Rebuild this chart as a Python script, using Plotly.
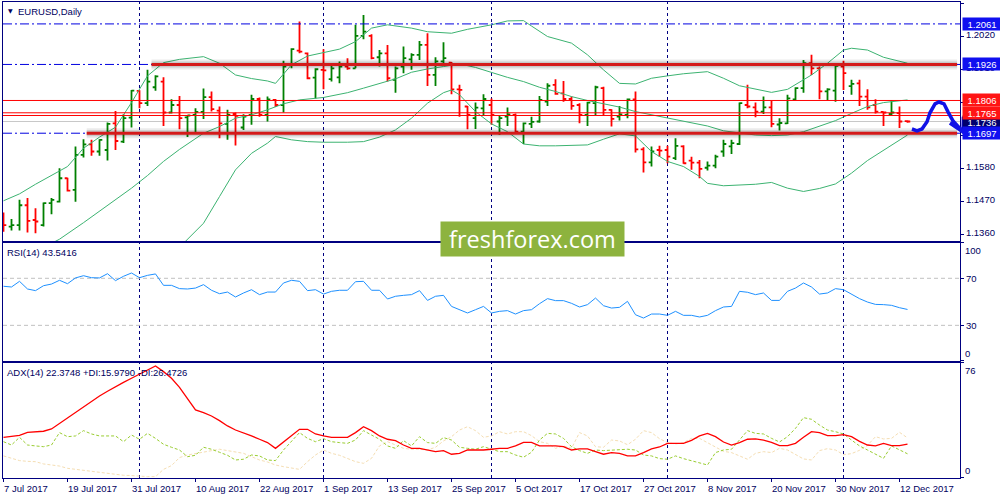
import plotly.graph_objects as go

# EURUSD daily bars, 7 Jul 2017 .. 13 Dec 2017 (one entry per trading day)
opens = [1.1419, 1.1386, 1.1391, 1.1457, 1.1408, 1.1391, 1.1464, 1.1469, 1.1547, 1.1508,
         1.1625, 1.1660, 1.1636, 1.1641, 1.1730, 1.1669, 1.1749, 1.1838, 1.1797, 1.1850,
         1.1869, 1.1766, 1.1791, 1.1750, 1.1758, 1.1768, 1.1817, 1.1772, 1.1728, 1.1761,
         1.1716, 1.1758, 1.1811, 1.1758, 1.1808, 1.1791, 1.1924, 1.1972, 1.1963, 1.1882,
         1.1908, 1.1877, 1.1883, 1.1919, 1.1913, 1.2021, 1.2021, 1.1950, 1.1963, 1.1875,
         1.1919, 1.1943, 1.1958, 1.1991, 1.1891, 1.1936, 1.1932, 1.1843, 1.1786, 1.1747,
         1.1780, 1.1791, 1.1736, 1.1752, 1.1758, 1.1702, 1.1728, 1.1736, 1.1802, 1.1858,
         1.1830, 1.1811, 1.1791, 1.1758, 1.1797, 1.1847, 1.1775, 1.1752, 1.1758, 1.1810,
         1.1643, 1.1600, 1.1641, 1.1641, 1.1614, 1.1653, 1.1606, 1.1599, 1.1582, 1.1589,
         1.1636, 1.1653, 1.1661, 1.1791, 1.1783, 1.1769, 1.1783, 1.1726, 1.1730, 1.1810,
         1.1847, 1.1930, 1.1913, 1.1836, 1.1839, 1.1919, 1.1854, 1.1863, 1.1819, 1.1791,
         1.1768, 1.1761, 1.1764, 1.1737]
highs = [1.1433, 1.1411, 1.1475, 1.1481, 1.1447, 1.1466, 1.1481, 1.1580, 1.1549, 1.1653,
         1.1677, 1.1675, 1.1677, 1.1733, 1.1771, 1.1760, 1.1841, 1.1840, 1.1908, 1.1890,
         1.1883, 1.1810, 1.1821, 1.1758, 1.1780, 1.1846, 1.1836, 1.1786, 1.1775, 1.1766,
         1.1760, 1.1825, 1.1816, 1.1819, 1.1811, 1.1938, 1.1980, 1.2069, 1.1966, 1.1913,
         1.1977, 1.1925, 1.1936, 1.1947, 1.2058, 1.2091, 1.2027, 1.1974, 1.1991, 1.1919,
         1.1986, 1.1963, 1.2004, 1.2030, 1.1950, 1.2000, 1.1934, 1.1858, 1.1788, 1.1799,
         1.1827, 1.1813, 1.1758, 1.1783, 1.1763, 1.1733, 1.1752, 1.1821, 1.1863, 1.1877,
         1.1871, 1.1819, 1.1797, 1.1802, 1.1855, 1.1852, 1.1777, 1.1788, 1.1813, 1.1836,
         1.1650, 1.1653, 1.1655, 1.1655, 1.1680, 1.1657, 1.1619, 1.1608, 1.1603, 1.1625,
         1.1675, 1.1675, 1.1799, 1.1858, 1.1799, 1.1819, 1.1806, 1.1747, 1.1825, 1.1850,
         1.1941, 1.1958, 1.1919, 1.1847, 1.1927, 1.1938, 1.1875, 1.1875, 1.1843, 1.1810,
         1.1769, 1.1808, 1.1786, 1.1740]
lows = [1.1369, 1.1373, 1.1373, 1.1366, 1.1364, 1.1386, 1.1427, 1.1466, 1.1503, 1.1469,
        1.1616, 1.1622, 1.1622, 1.1606, 1.1641, 1.1664, 1.1716, 1.1780, 1.1788, 1.1838,
        1.1721, 1.1763, 1.1710, 1.1684, 1.1699, 1.1744, 1.1769, 1.1680, 1.1675, 1.1656,
        1.1708, 1.1725, 1.1752, 1.1736, 1.1784, 1.1766, 1.1913, 1.1963, 1.1877, 1.1813,
        1.1843, 1.1869, 1.1863, 1.1908, 1.1913, 1.2010, 1.1943, 1.1919, 1.1869, 1.1832,
        1.1897, 1.1908, 1.1941, 1.1854, 1.1854, 1.1930, 1.1827, 1.1752, 1.1710, 1.1711,
        1.1755, 1.1725, 1.1691, 1.1721, 1.1697, 1.1661, 1.1714, 1.1732, 1.1788, 1.1825,
        1.1802, 1.1775, 1.1730, 1.1721, 1.1758, 1.1755, 1.1719, 1.1739, 1.1747, 1.1633,
        1.1566, 1.1586, 1.1619, 1.1597, 1.1608, 1.1595, 1.1575, 1.1547, 1.1573, 1.1580,
        1.1619, 1.1628, 1.1658, 1.1780, 1.1750, 1.1761, 1.1717, 1.1706, 1.1728, 1.1808,
        1.1832, 1.1891, 1.1810, 1.1808, 1.1802, 1.1841, 1.1825, 1.1788, 1.1775, 1.1763,
        1.1721, 1.1758, 1.1714, 1.1732]
closes = [1.1391, 1.1391, 1.1457, 1.1405, 1.1403, 1.1464, 1.1475, 1.1547, 1.1506, 1.1625,
          1.1660, 1.1636, 1.1675, 1.1728, 1.1671, 1.1747, 1.1839, 1.1797, 1.1869, 1.1886,
          1.1766, 1.1791, 1.1747, 1.1756, 1.1768, 1.1817, 1.1777, 1.1730, 1.1758, 1.1755,
          1.1752, 1.1811, 1.1758, 1.1810, 1.1791, 1.1919, 1.1977, 1.1969, 1.1880, 1.1910,
          1.1906, 1.1913, 1.1919, 1.1913, 1.2021, 1.2035, 1.1947, 1.1963, 1.1880, 1.1913,
          1.1947, 1.1958, 1.1991, 1.1891, 1.1936, 1.1947, 1.1843, 1.1841, 1.1758, 1.1782,
          1.1811, 1.1758, 1.1747, 1.1760, 1.1702, 1.1730, 1.1735, 1.1808, 1.1855, 1.1828,
          1.1811, 1.1788, 1.1758, 1.1799, 1.1850, 1.1775, 1.1745, 1.1760, 1.1810, 1.1643,
          1.1600, 1.1636, 1.1639, 1.1619, 1.1655, 1.1597, 1.1599, 1.1578, 1.1589, 1.1619,
          1.1661, 1.1664, 1.1797, 1.1786, 1.1769, 1.1783, 1.1728, 1.1731, 1.1813, 1.1847,
          1.1930, 1.1913, 1.1836, 1.1843, 1.1921, 1.1897, 1.1861, 1.1819, 1.1783, 1.1769,
          1.1766, 1.1766, 1.1736, 1.1736]
bar_idx = list(range(len(opens)))

# date labels on the time scale (bar index -> text)
date_idx = [0, 8, 16, 24, 32, 40, 48, 56, 64, 72, 80, 88, 96, 104, 112]
date_txt = ["7 Jul 2017", "19 Jul 2017", "31 Jul 2017", "10 Aug 2017", "22 Aug 2017",
            "1 Sep 2017", "13 Sep 2017", "25 Sep 2017", "5 Oct 2017", "17 Oct 2017",
            "27 Oct 2017", "8 Nov 2017", "20 Nov 2017", "30 Nov 2017", "12 Dec 2017"]
month_idx = [17, 40, 61, 83, 105]   # first bar of each month -> vertical grid

# Bollinger bands
bb_up_idx = [0, 2, 4, 6, 8, 10, 12, 14, 16, 18, 20, 22, 25, 27, 29, 31, 33, 34, 36, 38,
             40, 42, 44, 46, 48, 51, 53, 56, 58, 61, 63, 65, 66, 68, 71, 73, 75, 77, 79, 81,
             83, 85, 88, 90, 92, 94, 96, 98, 100, 101, 103, 105, 106, 108, 110, 113]
bb_up = [1.1472, 1.1495, 1.1527, 1.1556, 1.1586, 1.1647, 1.1684, 1.1717, 1.1799, 1.1888,
         1.1932, 1.1943, 1.1952, 1.1930, 1.1891, 1.1879, 1.1871, 1.1863, 1.1925, 1.1954,
         1.1965, 1.1977, 1.2002, 1.2047, 1.2058, 1.2047, 1.2035, 1.2030, 1.2043, 1.2058,
         1.2071, 1.2072, 1.2054, 1.2019, 1.1997, 1.1958, 1.1908, 1.1863, 1.1861, 1.1880,
         1.1888, 1.1895, 1.1902, 1.1880, 1.1855, 1.1843, 1.1833, 1.1843, 1.1875, 1.1891,
         1.1930, 1.1974, 1.1980, 1.1974, 1.1950, 1.1930]
bb_mid_idx = [6, 7, 10, 12, 14, 16, 18, 20, 22, 25, 27, 29, 31, 33, 35, 37, 40, 43, 45, 47,
              49, 51, 53, 55, 57, 59, 61, 63, 65, 67, 69, 71, 73, 75, 77, 79, 81, 83, 85, 88,
              90, 92, 94, 96, 98, 100, 102, 104, 106, 108, 110, 113]
bb_mid = [1.1330, 1.1344, 1.1399, 1.1437, 1.1476, 1.1514, 1.1556, 1.1603, 1.1643, 1.1697,
          1.1719, 1.1747, 1.1758, 1.1775, 1.1795, 1.1808, 1.1816, 1.1832, 1.1847, 1.1863,
          1.1878, 1.1900, 1.1911, 1.1919, 1.1928, 1.1916, 1.1899, 1.1883, 1.1869, 1.1850,
          1.1836, 1.1819, 1.1806, 1.1795, 1.1784, 1.1769, 1.1758, 1.1747, 1.1736, 1.1721,
          1.1705, 1.1697, 1.1691, 1.1689, 1.1691, 1.1702, 1.1721, 1.1739, 1.1763, 1.1786,
          1.1799, 1.1808]
bb_lo_idx = [22, 23, 25, 27, 29, 31, 33, 34, 36, 38, 40, 43, 45, 47, 49, 51, 53, 55, 56, 57,
             59, 61, 63, 65, 67, 69, 71, 73, 75, 77, 79, 81, 83, 85, 87, 88, 90, 92, 94, 96,
             98, 100, 102, 104, 106, 108, 110, 113]
bb_lo = [1.1317, 1.1344, 1.1397, 1.1486, 1.1575, 1.1630, 1.1664, 1.1686, 1.1675, 1.1669,
         1.1667, 1.1667, 1.1669, 1.1684, 1.1708, 1.1747, 1.1797, 1.1832, 1.1841, 1.1825,
         1.1769, 1.1728, 1.1702, 1.1661, 1.1655, 1.1655, 1.1656, 1.1658, 1.1677, 1.1695,
         1.1688, 1.1636, 1.1603, 1.1586, 1.1553, 1.1530, 1.1522, 1.1524, 1.1527, 1.1533,
         1.1514, 1.1503, 1.1513, 1.1528, 1.1564, 1.1606, 1.1641, 1.1691]

rsi = [63.2, 62.6, 67.4, 60.9, 59.5, 63.7, 65.1, 68.3, 65.4, 70.3,
       72.2, 70.5, 70.3, 73.9, 68.0, 71.7, 74.5, 70.5, 72.5, 73.7,
       64.0, 64.0, 61.2, 60.9, 61.7, 64.6, 59.8, 56.9, 58.3, 54.1,
       57.5, 60.3, 56.1, 58.3, 58.3, 66.0, 68.3, 67.4, 59.5, 60.3,
       56.6, 58.9, 59.8, 59.8, 67.1, 67.4, 59.8, 59.8, 52.4, 54.7,
       55.5, 56.1, 59.5, 51.2, 54.7, 55.5, 46.1, 43.3, 40.5, 43.3,
       46.1, 40.5, 41.9, 42.5, 39.6, 42.5, 43.3, 48.4, 52.7, 51.0,
       51.0, 48.7, 45.6, 47.6, 53.2, 46.7, 44.7, 45.3, 50.4, 39.0,
       36.2, 39.6, 39.6, 38.5, 41.9, 38.5, 38.5, 37.1, 38.5, 42.5,
       45.6, 46.1, 58.9, 58.1, 56.1, 57.5, 51.2, 51.2, 58.9, 61.7,
       66.0, 62.6, 56.6, 57.5, 61.2, 60.3, 56.6, 52.7, 49.8, 47.8,
       47.6, 47.0, 45.0, 43.5]

adx = [26.9, 27.3, 28.2, 30.2, 30.6, 30.9, 32.4, 36.1, 39.4, 43.2,
       46.7, 50.5, 54.2, 57.3, 60.4, 63.2, 65.9, 68.7, 71.4, 74.0,
       70.3, 65.9, 59.9, 52.4, 45.0, 43.2, 41.0, 37.9, 34.4, 31.7,
       30.0, 27.8, 25.6, 23.4, 19.6, 24.0, 28.4, 32.2, 32.2, 29.1,
       27.8, 26.9, 26.9, 26.9, 30.0, 33.9, 31.3, 27.8, 25.6, 24.7,
       21.8, 19.6, 19.6, 18.5, 17.4, 18.1, 15.7, 16.3, 18.5, 18.5,
       18.5, 19.0, 19.6, 19.6, 21.2, 23.6, 23.6, 21.2, 21.2, 21.2,
       20.7, 18.5, 19.2, 19.2, 17.4, 15.7, 16.8, 16.3, 14.6, 14.6,
       16.8, 19.2, 20.5, 22.9, 22.9, 22.9, 24.9, 27.8, 29.5, 27.3,
       23.8, 21.8, 23.4, 25.6, 25.8, 25.1, 23.6, 21.4, 21.4, 22.9,
       26.9, 30.6, 30.0, 28.0, 28.0, 28.7, 27.3, 24.2, 21.8, 21.2,
       22.9, 21.4, 21.4, 22.4]
plus_di = [24.0, 21.8, 26.9, 21.8, 21.2, 20.7, 21.8, 30.0, 27.3, 27.8,
           31.3, 29.1, 27.8, 27.8, 27.8, 24.0, 28.4, 25.6, 29.5, 26.2,
           22.3, 20.3, 18.5, 14.1, 15.0, 20.3, 19.0, 17.0, 15.0, 11.9,
           12.4, 15.2, 14.6, 11.9, 11.5, 18.5, 24.5, 30.0, 26.2, 24.0,
           26.0, 24.0, 23.4, 22.9, 25.1, 31.3, 28.4, 25.6, 21.2, 19.6,
           24.7, 21.2, 27.3, 23.4, 22.9, 26.7, 25.1, 20.3, 19.6, 19.0,
           20.7, 19.0, 17.4, 17.4, 15.2, 13.7, 17.0, 25.1, 29.5, 29.1,
           26.2, 20.7, 18.1, 16.3, 18.5, 18.1, 18.5, 19.0, 19.0, 18.5,
           15.2, 14.6, 12.8, 12.4, 14.6, 12.8, 11.5, 10.1, 8.6, 16.8,
           18.5, 19.0, 25.1, 31.3, 29.5, 29.1, 26.2, 23.8, 27.3, 32.8,
           39.9, 38.8, 35.0, 31.7, 30.6, 29.1, 25.1, 21.2, 18.5, 15.9,
           13.0, 21.2, 18.5, 16.0]
minus_di = [14.6, 13.0, 11.5, 11.0, 10.8, 9.3, 8.6, 7.9, 6.4, 5.7,
            5.1, 4.4, 3.8, 3.1, 2.4, 1.8, 1.6, 1.1, 0.9, 0.9,
            5.7, 8.2, 13.5, 15.2, 16.1, 17.0, 18.1, 19.0, 18.1, 17.2,
            16.3, 14.1, 11.9, 10.6, 8.6, 7.5, 6.6, 5.7, 10.8, 15.2,
            18.5, 16.3, 15.0, 13.0, 10.8, 9.7, 13.0, 21.2, 24.0, 21.8,
            19.6, 19.0, 19.0, 18.5, 20.3, 24.5, 27.3, 31.7, 33.9, 31.3,
            26.9, 27.8, 30.6, 29.1, 30.6, 30.6, 28.0, 24.0, 22.9, 19.6,
            21.2, 19.6, 30.0, 27.8, 20.7, 20.3, 25.1, 24.5, 22.0, 25.6,
            31.3, 30.0, 26.0, 23.4, 22.5, 23.4, 26.2, 26.2, 23.4, 20.3,
            17.6, 16.8, 14.6, 12.4, 16.3, 17.4, 16.8, 19.6, 18.5, 15.4,
            12.6, 11.9, 18.1, 19.4, 18.5, 15.4, 16.1, 18.3, 21.6, 27.3,
            25.8, 26.2, 30.2, 26.5]

price_ticks = [1.1360, 1.1470, 1.1580, 1.1690, 1.1800, 1.1910, 1.2020, 1.2130]

# drawn levels
lvl_blue = [1.2061, 1.1926, 1.1697]          # dash-dot lines
lvl_thick = [1.1926, 1.1697]                  # heavy red lines
lvl_thick_from = [18.5, 10.4]                 # bar where each heavy line starts
lvl_thin = [1.1806, 1.1765, 1.1756]           # thin red lines
bid = 1.1736
box_vals = [1.2061, 1.1926, 1.1806, 1.1736, 1.1765, 1.1697]

# hand drawn forecast wave (bar index, price)
wave_idx = [113.56, 114.19, 114.81, 115.44, 115.81, 116.44, 116.94, 117.56, 118.06, 118.69, 119.94]
wave_px = [1.1711, 1.1705, 1.1711, 1.1735, 1.1765, 1.1795, 1.1801, 1.1795, 1.1768, 1.1738, 1.1701]

NAVY = '#000080'
TXT = '#000060'
FONT = 'Liberation Sans'
X_LO, X_HI = -0.0625, 119.5625
Y_LO, Y_HI = 1.1338, 1.2134

fig = go.Figure()

fig.add_trace(go.Ohlc(x=bar_idx, open=opens, high=highs, low=lows, close=closes,
                      xaxis='x', yaxis='y', tickwidth=0.35,
                      increasing=dict(line=dict(color='#008000', width=1.8)),
                      decreasing=dict(line=dict(color='#FF0000', width=1.8)),
                      hoverinfo='skip'))
for bx, by in [(bb_up_idx, bb_up), (bb_mid_idx, bb_mid), (bb_lo_idx, bb_lo)]:
    fig.add_trace(go.Scatter(x=bx, y=by, mode='lines', xaxis='x', yaxis='y',
                             line=dict(color='#3CB371', width=1), hoverinfo='skip'))

fig.add_trace(go.Scatter(x=bar_idx, y=rsi, mode='lines', xaxis='x2', yaxis='y2',
                         line=dict(color='#1E90FF', width=1), hoverinfo='skip'))

fig.add_trace(go.Scatter(x=bar_idx, y=minus_di, mode='lines', xaxis='x3', yaxis='y3',
                         line=dict(color='#F5DEB3', width=1, dash='3px,2px'), hoverinfo='skip'))
fig.add_trace(go.Scatter(x=bar_idx, y=plus_di, mode='lines', xaxis='x3', yaxis='y3',
                         line=dict(color='#9ACD32', width=1, dash='3px,2px'), hoverinfo='skip'))
fig.add_trace(go.Scatter(x=bar_idx, y=adx, mode='lines', xaxis='x3', yaxis='y3',
                         line=dict(color='#FF0000', width=1.3), hoverinfo='skip'))

shapes = []
# month grid
for m in month_idx:
    shapes.append(dict(type='line', xref='x', yref='paper', x0=m, x1=m, y0=0, y1=1,
                       layer='below', line=dict(color=NAVY, width=1, dash='3px,3px')))
# RSI 70 / 30
for lv in [70, 30]:
    shapes.append(dict(type='line', xref='paper', yref='y2', x0=0, x1=1, y0=lv, y1=lv,
                       layer='below', line=dict(color='#C0C0C0', width=1, dash='4px,3px')))
# bid line
shapes.append(dict(type='line', xref='paper', yref='y', x0=0, x1=1, y0=bid, y1=bid,
                   layer='below', line=dict(color='#C8C8C8', width=1)))
for lv in lvl_blue:
    shapes.append(dict(type='line', xref='paper', yref='y', x0=0, x1=1, y0=lv, y1=lv,
                       layer='above', line=dict(color='#0000E0', width=1, dash='9px,3px,2px,3px')))
for lv in lvl_thin:
    shapes.append(dict(type='line', xref='paper', yref='y', x0=0, x1=1, y0=lv, y1=lv,
                       layer='above', line=dict(color='#FF0000', width=1)))
for lv, x0 in zip(lvl_thick, lvl_thick_from):
    for w, c in [(10, 'rgba(0,0,0,0.08)'), (6, 'rgba(0,0,0,0.14)'), (3, '#D41A1A')]:
        shapes.append(dict(type='line', xref='x', yref='y', x0=x0, x1=119.2, y0=lv, y1=lv,
                           layer='above', line=dict(color=c, width=w)))

# wave with arrow head, in domain fractions so it can run onto the scale
def fx(i):
    return (i - X_LO) / (X_HI - X_LO)

def fy(p):
    return (p - Y_LO) / (Y_HI - Y_LO)

wave_path = 'M ' + ' L '.join(f'{fx(a):.5f},{fy(b):.5f}' for a, b in zip(wave_idx, wave_px))
tip_i, tip_p = wave_idx[-1], wave_px[-1]
wave_path += f' M {fx(118.3):.5f},{fy(1.1731):.5f} L {fx(tip_i):.5f},{fy(tip_p):.5f}'
wave_path += f' L {fx(tip_i + 0.05):.5f},{fy(1.1752):.5f}'
shapes.append(dict(type='path', xref='x domain', yref='y domain', path=wave_path,
                   layer='above', line=dict(color='#1212E6', width=3.5)))

ann = []
for i, t in zip(date_idx, date_txt):
    ann.append(dict(x=i, xref='x3', y=0, yref='paper', text=t, showarrow=False,
                    xanchor='left', yanchor='top', xshift=-2, yshift=-3,
                    font=dict(family=FONT, size=9.5, color=TXT)))
ann.append(dict(x=0, xref='paper', y=0.9821, yref='paper', text='▼', showarrow=False,
                xanchor='center', yanchor='middle', xshift=7,
                font=dict(family='DejaVu Sans', size=6, color=TXT)))
ann.append(dict(x=0, xref='paper', y=1, yref='paper', text='EURUSD,Daily', showarrow=False,
                xanchor='left', yanchor='top', xshift=13, yshift=-2,
                font=dict(family=FONT, size=9.5, color=TXT)))
ann.append(dict(x=0, xref='paper', y=1, yref='y2 domain', text='RSI(14) 43.5416',
                showarrow=False, xanchor='left', yanchor='top', xshift=2, yshift=-2,
                font=dict(family=FONT, size=9.5, color=TXT)))
ann.append(dict(x=0, xref='paper', y=1, yref='y3 domain',
                text='ADX(14) 22.3748 +DI:15.9790 -DI:26.4726',
                showarrow=False, xanchor='left', yanchor='top', xshift=2, yshift=-2,
                font=dict(family=FONT, size=9.5, color=TXT)))
for v, yr, anc in [(100, 'y2', 'top'), (0, 'y2', 'bottom'), (76, 'y3', 'top'), (0, 'y3', 'bottom')]:
    ann.append(dict(x=1, xref='paper', y=v, yref=yr, text=str(v), showarrow=False,
                    xanchor='left', yanchor=anc, xshift=3,
                    font=dict(family=FONT, size=9.5, color=TXT)))

box_col = {1.2061: '#1010F0', 1.1926: '#1010F0', 1.1806: '#FF1414',
           1.1736: '#00006E', 1.1765: '#FF1414', 1.1697: '#1010F0'}
for v in box_vals:
    ann.append(dict(x=1, xref='paper', y=v, yref='y', text=f'{v:.4f}', showarrow=False,
                    xanchor='left', yanchor='middle', xshift=2, width=38, height=12,
                    borderpad=0, align='center', bgcolor=box_col[v],
                    font=dict(family=FONT, size=9.5, color='white')))

ann.append(dict(x=0.5533, xref='paper', y=0.5023, yref='paper', text='freshforex.com',
                showarrow=False, xanchor='center', yanchor='middle', width=183, height=34,
                borderpad=0, bgcolor='#8DB33E',
                font=dict(family='Open Sans', size=23.5, color='white')))

ax_common = dict(showline=True, mirror=True, linecolor=NAVY, linewidth=1,
                 showgrid=False, zeroline=False, fixedrange=True)

fig.update_layout(
    width=1000, height=500,
    margin=dict(l=3, r=40, t=2, b=22),
    paper_bgcolor='white', plot_bgcolor='white',
    showlegend=False,
    shapes=shapes, annotations=ann,
    xaxis=dict(domain=[0, 1], anchor='y', range=[X_LO, X_HI], showticklabels=False,
               ticks='', rangeslider=dict(visible=False), **ax_common),
    xaxis2=dict(domain=[0, 1], anchor='y2', matches='x', range=[X_LO, X_HI],
                showticklabels=False, ticks='', **ax_common),
    xaxis3=dict(domain=[0, 1], anchor='y3', matches='x', range=[X_LO, X_HI],
                showticklabels=False, ticks='outside', ticklen=3, tickcolor=NAVY,
                tickvals=date_idx, **ax_common),
    yaxis=dict(domain=[0.4979, 1], anchor='x', side='right', range=[Y_LO, Y_HI],
               tickvals=price_ticks, ticktext=[f'{p:.4f}' for p in price_ticks],
               ticks='outside', ticklen=3, tickcolor=NAVY, ticklabelshift=-2,
               tickfont=dict(family=FONT, size=9.5, color=TXT), **ax_common),
    yaxis2=dict(domain=[0.2466, 0.4937], anchor='x2', side='right', range=[0, 100],
                tickvals=[0, 30, 70, 100], ticktext=['', '30', '70', ''],
                ticks='outside', ticklen=3, tickcolor=NAVY,
                tickfont=dict(family=FONT, size=9.5, color=TXT), **ax_common),
    yaxis3=dict(domain=[0, 0.2416], anchor='x3', side='right', range=[0, 76],
                tickvals=[0, 76], ticktext=['', ''],
                ticks='outside', ticklen=3, tickcolor=NAVY, **ax_common),
)

# the page's default body margin would shift the chart by 8px
fig.write_html("out.html", config={'displayModeBar': False},
               post_script="document.body.style.margin='0';")
